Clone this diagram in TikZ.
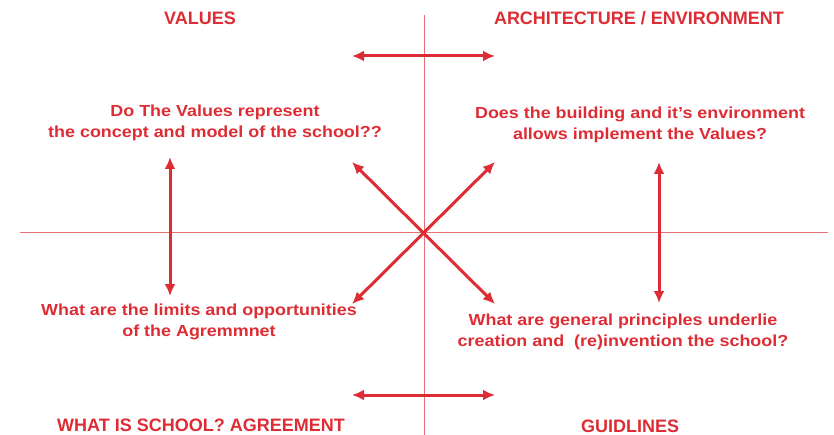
\documentclass[tikz,border=0pt]{standalone}
\usepackage{fontspec}
\setmainfont{Liberation Sans}
\newfontfamily\askfont{Liberation Sans}[FakeStretch=1.12]
\usetikzlibrary{arrows.meta,positioning}
\definecolor{schoolred}{RGB}{221,44,52}
\definecolor{axisred}{RGB}{228,112,112}

\begin{document}
\begin{tikzpicture}
  [x=1pt,y=-1pt,
   every node/.style={text=schoolred,font=\askfont\bfseries\fontsize{16}{21}\selectfont,align=center,inner sep=0pt},
   head/.style={font=\bfseries\fontsize{18}{20}\selectfont},
   axis/.style={draw=axisred,line width=1pt},
   link/.style={draw=schoolred,line width=3pt,{Latex[length=12pt,width=11pt]}-{Latex[length=12pt,width=11pt]}}]
  \useasboundingbox (0,0) rectangle (834,435);
  % axes
  \coordinate (c) at (424,233);
  \coordinate (top) at (424,15);
  \coordinate (bot) at (424,435);
  \coordinate (lft) at (20,233);
  \coordinate (rgt) at (828,233);
  \draw[axis] (top) -- (bot);
  \draw[axis] (lft) -- (rgt);
  % headings
  \node[head] (n1) at (200,18) {VALUES};
  \node[head] (n2) at (639,18) {ARCHITECTURE / ENVIRONMENT};
  \node[head] (n3) at (201,425) {WHAT IS SCHOOL? AGREEMENT};
  \node[head] (n4) at (630,426) {GUIDLINES};
  % questions
  \node (n5) at (215,123) {Do The Values represent\\the concept and model of the school??};
  \node (n6) at (640,125) {Does the building and it’s environment\\allows implement the Values?};
  \node (n7) at (199,322) {What are the limits and opportunities\\of the Agremmnet};
  \node (n8) at (623,332) {What are general principles underlie\\creation and~ (re)invention the school?};
  % arrow ends
  \coordinate (a1) at (352,56);  \coordinate (a2) at (495,56);
  \coordinate (b1) at (352,395); \coordinate (b2) at (495,395);
  \coordinate (l1) at (170,157); \coordinate (l2) at (170,296);
  \coordinate (r1) at (659,162); \coordinate (r2) at (659,303);
  \coordinate (nw) at (352,162); \coordinate (se) at (495,304);
  \coordinate (ne) at (495,162); \coordinate (sw) at (352,304);
  \foreach \from/\to in {a1/a2,b1/b2,l1/l2,r1/r2,nw/se,ne/sw}
    \draw[link] (\from) -- (\to);
\end{tikzpicture}
\end{document}
